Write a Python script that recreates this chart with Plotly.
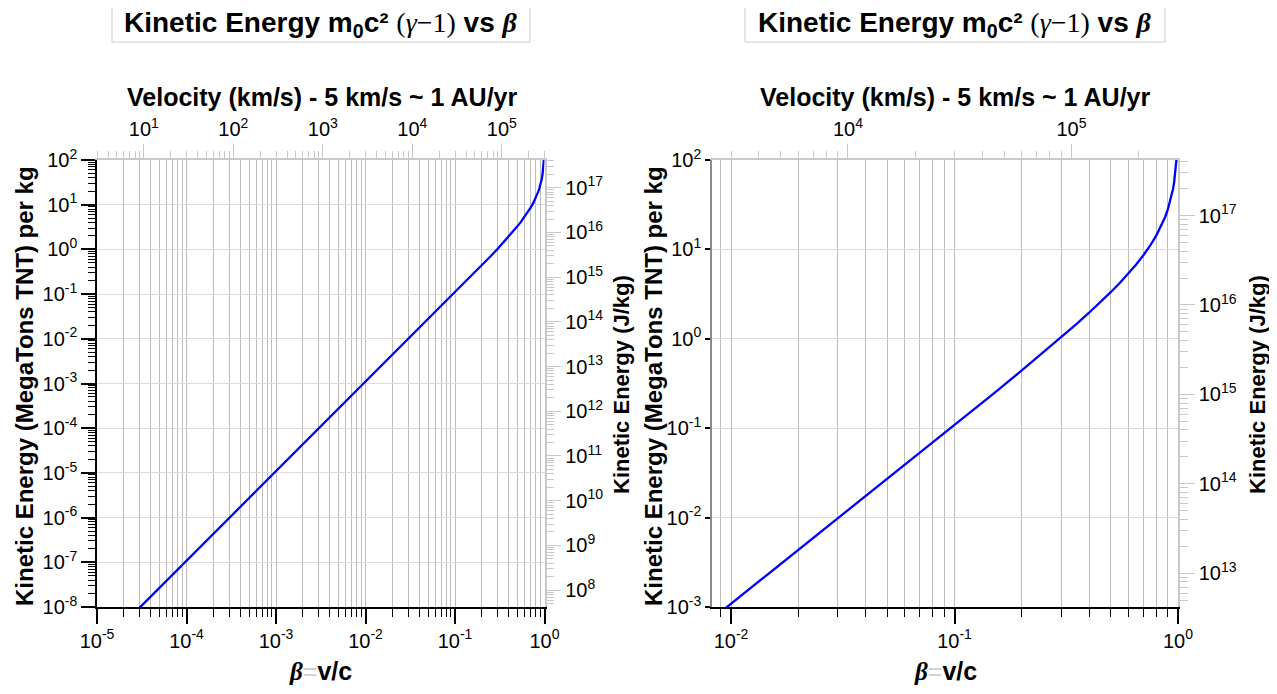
import math
import plotly.graph_objects as go

# ---- data ----
beta = [3e-5, 1e-4, 1e-3, 1e-2, 0.03, 0.05, 0.1, 0.15, 0.2, 0.25, 0.3, 0.35, 0.4,
        0.45, 0.5, 0.55, 0.6, 0.65, 0.7, 0.75, 0.8, 0.85, 0.875, 0.9, 0.93,
        0.95, 0.96, 0.97, 0.975, 0.98, 0.985]
ke_mt = [9.67e-9, 1.074e-7, 1.074e-5, 1.074e-3, 9.67e-3, 0.0269, 0.1082, 0.2458,
         0.4429, 0.7045, 1.037, 1.450, 1.957, 2.573, 3.323, 4.239, 5.37, 6.786,
         8.60, 10.99, 14.32, 19.30, 22.89, 27.80, 36.96, 47.31, 55.23, 66.88,
         75.19, 86.46, 103.0]

C_KMS = 299792.458        # km/s per unit beta
J_PER_MT = 4.184e15       # J per megaton TNT

beta_range_left = [-5, 0]
beta_range_right = [-2.085, 0]
ke_range_left = [-8, 2]
ke_range_right = [-3, 2]

beta_tick_exp_left = [-5, -4, -3, -2, -1, 0]
beta_tick_exp_right = [-2, -1, 0]
ke_tick_exp_left = [-8, -7, -6, -5, -4, -3, -2, -1, 0, 1, 2]
ke_tick_exp_right = [-3, -2, -1, 0, 1, 2]
vel_tick_exp_left = [1, 2, 3, 4, 5]
vel_tick_exp_right = [4, 5]
kej_tick_exp_left = [8, 9, 10, 11, 12, 13, 14, 15, 16, 17]
kej_tick_exp_right = [13, 14, 15, 16, 17]

vel = [b * C_KMS for b in beta]
ke_j = [k * J_PER_MT for k in ke_mt]

FONT = "Liberation Sans"
SERIF = "Liberation Serif"
OFF = 8                      # page body margin
W, H = 1277 - 2 * OFF, 694 - 2 * OFF


def px(X):
    return (X - OFF) / W


def py(Y):
    return 1 - (Y - OFF) / H


fig = go.Figure()
fig.add_trace(go.Scatter(x=beta, y=ke_mt, mode="lines", line=dict(color="#0000ff", width=2.3),
                         xaxis="x", yaxis="y", showlegend=False))
fig.add_trace(go.Scatter(x=vel, y=ke_j, mode="lines", line=dict(color="rgba(0,0,0,0)", width=0),
                         xaxis="x3", yaxis="y3", showlegend=False, hoverinfo="skip"))
fig.add_trace(go.Scatter(x=beta, y=ke_mt, mode="lines", line=dict(color="#0000ff", width=2.3),
                         xaxis="x2", yaxis="y2", showlegend=False))
fig.add_trace(go.Scatter(x=vel, y=ke_j, mode="lines", line=dict(color="rgba(0,0,0,0)", width=0),
                         xaxis="x4", yaxis="y4", showlegend=False, hoverinfo="skip"))

tickfont = dict(family=FONT, size=20, color="black")
grid = "#bdbdbd"
hgrid = "#dcdcdc"
light = "#c8c8c8"

ydom = [py(607), py(160)]
xdomL = [px(97), px(544.5)]
xdomR = [px(712), px(1178)]


def ticks(exps):
    return dict(tickmode="array", tickvals=[10.0 ** e for e in exps],
                ticktext=["10<sup>%d</sup>" % e for e in exps])


def bottom_axis(dom, rng, anchor, exps):
    d = dict(type="log", domain=dom, range=rng, anchor=anchor, automargin=False,
             showline=True, linecolor="black", linewidth=1.5,
             ticks="outside", ticklen=15, tickwidth=1.5, tickcolor="black",
             tickfont=tickfont, showgrid=True, gridcolor=grid, gridwidth=1,
             minor=dict(dtick="D1", ticks="outside", ticklen=8, tickcolor="black",
                        tickwidth=1, showgrid=True, gridcolor=grid, gridwidth=1),
             zeroline=False, mirror=False)
    d.update(ticks(exps))
    return d


def left_axis(dom, rng, anchor, linecolor, exps, minor=True):
    d = dict(type="log", domain=dom, range=rng, anchor=anchor, automargin=False,
             showline=True, linecolor=linecolor, linewidth=1.5,
             ticks="outside", ticklen=14 if minor else 5, tickwidth=1.5, tickcolor="black",
             tickfont=tickfont, showgrid=True, gridcolor=hgrid, gridwidth=1, zeroline=False)
    if minor:
        d["minor"] = dict(dtick="D1", ticks="outside", ticklen=7, tickcolor="black",
                          tickwidth=1, showgrid=False)
    d.update(ticks(exps))
    return d


def top_axis(over, rng, anchor, exps):
    d = dict(type="log", overlaying=over, side="top", anchor=anchor, range=rng, automargin=False,
             showline=True, linecolor=light, linewidth=1.5,
             ticks="outside", ticklen=14, tickwidth=1, tickcolor=light,
             tickfont=tickfont, showgrid=False, zeroline=False,
             minor=dict(dtick="D1", ticks="outside", ticklen=7, tickcolor=light, tickwidth=1))
    d.update(ticks(exps))
    return d


def right_axis(over, rng, anchor, exps):
    d = dict(type="log", overlaying=over, side="right", anchor=anchor, range=rng, automargin=False,
             showline=True, linecolor=light, linewidth=1.5,
             ticks="outside", ticklen=15, tickwidth=1, tickcolor=light,
             tickfont=tickfont, showgrid=False, zeroline=False,
             minor=dict(dtick="D1", ticks="outside", ticklen=8, tickcolor=light, tickwidth=1))
    d.update(ticks(exps))
    return d


lc = math.log10(C_KMS)
lj = math.log10(J_PER_MT)

fig.update_layout(
    width=W, height=H, margin=dict(l=0, r=0, t=0, b=0, autoexpand=False),
    paper_bgcolor="white", plot_bgcolor="white", showlegend=False,
    font=dict(family=FONT, color="black"),
    xaxis=bottom_axis(xdomL, beta_range_left, "y", beta_tick_exp_left),
    yaxis=left_axis(ydom, ke_range_left, "x", "black", ke_tick_exp_left),
    xaxis3=top_axis("x", [beta_range_left[0] + lc, beta_range_left[1] + lc], "y", vel_tick_exp_left),
    yaxis3=right_axis("y", [ke_range_left[0] + lj, ke_range_left[1] + lj], "x", kej_tick_exp_left),
    xaxis2=bottom_axis(xdomR, beta_range_right, "y2", beta_tick_exp_right),
    yaxis2=left_axis(ydom, ke_range_right, "x2", "#8a8a8a", ke_tick_exp_right, minor=False),
    xaxis4=top_axis("x2", [beta_range_right[0] + lc, beta_range_right[1] + lc], "y2", vel_tick_exp_right),
    yaxis4=right_axis("y2", [ke_range_right[0] + lj, ke_range_right[1] + lj], "x2", kej_tick_exp_right),
)

title_txt = ("<b>Kinetic Energy m<sub>0</sub>c²</b> "
             "<span style='font-family:" + SERIF + "'>(<i>γ</i>−1)</span> <b>vs</b> "
             "<span style='font-family:" + SERIF + "'><b><i>β</i></b></span>")
beta_txt = ("<span style='font-family:" + SERIF + "'><b><i>β</i></b></span>"
            "<span style='color:#d0d0d0'>=</span><b>v/c</b>")
vel_txt = "<b>Velocity (km/s) - 5 km/s ~ 1 AU/yr</b>"
yl_txt = "<b>Kinetic Energy (MegaTons TNT) per kg</b>"
yr_txt = "<b>Kinetic Energy (J/kg)</b>"

ann = []
shapes = []
for cx, bx0, bx1, ylx, yrx, vx, bx in [(321, 112, 530, 24, 621, 322, 320),
                                       (955, 745, 1165, 653, 1257, 955, 945)]:
    shapes.append(dict(type="rect", xref="paper", yref="paper",
                       x0=px(bx0), x1=px(bx1), y0=py(42), y1=py(6),
                       line=dict(color="#cccccc", width=1), fillcolor="rgba(0,0,0,0)"))
    ann.append(dict(text=title_txt, x=px(cx), y=py(25), xref="paper", yref="paper",
                    showarrow=False, font=dict(family=FONT, size=28, color="black"),
                    borderpad=0, xanchor="center", yanchor="middle"))
    ann.append(dict(text=vel_txt, x=px(vx), y=py(97), xref="paper", yref="paper",
                    showarrow=False, font=dict(family=FONT, size=25, color="black"),
                    xanchor="center", yanchor="middle"))
    ann.append(dict(text=beta_txt, x=px(bx), y=py(671), xref="paper", yref="paper",
                    showarrow=False, font=dict(family=FONT, size=25, color="black"),
                    borderpad=0, xanchor="center", yanchor="middle"))
    ann.append(dict(text=yl_txt, x=px(ylx), y=py(386), xref="paper", yref="paper",
                    showarrow=False, textangle=-90, font=dict(family=FONT, size=24, color="black"),
                    xanchor="center", yanchor="middle"))
    ann.append(dict(text=yr_txt, x=px(yrx), y=py(385), xref="paper", yref="paper",
                    showarrow=False, textangle=-90, font=dict(family=FONT, size=22, color="black"),
                    xanchor="center", yanchor="middle"))
fig.update_layout(annotations=ann, shapes=shapes)

fig.write_html("out.html")
